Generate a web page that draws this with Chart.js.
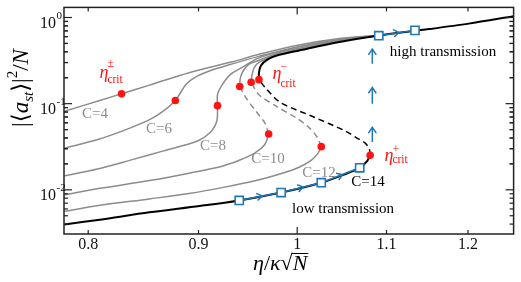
<!DOCTYPE html>
<html>
<head>
<meta charset="utf-8">
<script src="https://cdn.jsdelivr.net/npm/chart.js@4.4.0/dist/chart.umd.min.js"></script>
<style>
  html, body { margin: 0; padding: 0; background: #fff; }
  #wrap { width: 521px; height: 282px; }
</style>
</head>
<body>
<div id="wrap"><canvas id="chart" width="521" height="282"></canvas></div>
<script>
// ── Axis ticks ──
const xTickValues = [0.8, 0.9, 1, 1.1, 1.2];
const xMajorTicks = [1];
const yMajorTicks = [0.01, 0.1, 1];
const yTickExponents = ['-2', '-1', '0'];
const yMinorMantissas = [2, 3, 4, 5, 6, 7, 8, 9];

// ── Curves: |<a_st>|^2/N against eta/(kappa sqrt N), one per C ──
const curveC4 = [[0.780,0.0815],[0.810,0.109],[0.829,0.130],[0.854,0.164],[0.891,0.229],[0.933,0.306],[0.960,0.374],[1.002,0.480],[1.046,0.5705],[1.091,0.62]];
const curveC6 = [[0.780,0.0304],[0.809,0.0386],[0.837,0.0524],[0.855,0.066],[0.867,0.0826],[0.878,0.109],[0.888,0.167],[0.897,0.203],[0.911,0.241],[0.930,0.283],[0.960,0.354],[1.002,0.462],[1.046,0.556],[1.091,0.62]];
const curveC8 = [[0.780,0.0146],[0.808,0.0174],[0.837,0.0221],[0.867,0.0283],[0.899,0.0369],[0.911,0.0459],[0.9177,0.0626],[0.9184,0.0948],[0.9184,0.127],[0.923,0.165],[0.931,0.217],[0.945,0.272],[0.960,0.340],[1.002,0.456],[1.046,0.548],[1.091,0.62]];

const c10Low = [[0.780,0.00876],[0.810,0.0104],[0.854,0.0128],[0.891,0.0156],[0.923,0.0188],[0.940,0.0220],[0.956,0.0268],[0.966,0.0336],[0.970,0.0444]];
const c10Mid = [[0.970,0.0444],[0.966,0.0598],[0.957,0.0815],[0.947,0.116],[0.9405,0.158]];
const c10High = [[0.9405,0.158],[0.941,0.195],[0.944,0.241],[0.950,0.287],[0.960,0.319],[0.981,0.389],[1.002,0.440],[1.046,0.541],[1.091,0.62]];

const c12Low = [[0.780,0.00563],[0.810,0.0066],[0.854,0.00784],[0.891,0.00907],[0.923,0.0106],[0.957,0.0128],[0.986,0.0158],[1.002,0.0183],[1.015,0.0220],[1.022,0.0261],[1.026,0.0317]];
const c12Mid = [[1.026,0.0317],[1.022,0.0402],[1.013,0.0524],[0.999,0.0683],[0.978,0.0931],[0.960,0.127],[0.952,0.177]];
const c12High = [[0.952,0.177],[0.953,0.217],[0.955,0.261],[0.960,0.302],[0.981,0.374],[1.002,0.429],[1.046,0.534],[1.091,0.62]];

const c14Low = [[0.780,0.00396],[0.810,0.0045],[0.854,0.00548],[0.901,0.0065],[0.940,0.00753],[0.983,0.0093],[1.026,0.0121],[1.051,0.0150],[1.069,0.0180],[1.077,0.0212],[1.081,0.0252]];
const c14Mid = [[1.081,0.0252],[1.080,0.0298],[1.075,0.035],[1.065,0.0404],[1.053,0.048],[1.016,0.0714],[0.982,0.1035],[0.967,0.151],[0.960,0.190]];
const c14High = [[0.960,0.190],[0.960,0.229],[0.962,0.276],[0.969,0.327],[0.981,0.369],[1.002,0.415],[1.046,0.520],[1.091,0.62],[1.151,0.734],[1.201,0.849],[1.260,1.035]];

// critical points eta_crit (+/-)
const critPoints = [[0.829,0.130],[0.878,0.109],[0.9184,0.0948],[0.9405,0.158],[0.970,0.0444],[0.952,0.177],[1.026,0.0317],[0.960,0.190],[1.081,0.0252]];

// hysteresis path for C=14
const lowSquares = [[0.940,0.00753],[0.983,0.0093],[1.026,0.0121],[1.069,0.0180]];
const highSquares = [[1.091,0.615],[1.134,0.709]];
const jumpX = 1.0835;
const jumpArrows = [[0.036,0.053],[0.100,0.154],[0.29,0.43]];

const SERIF = "'Liberation Serif', 'DejaVu Serif', serif";
const GRAY = '#8c8c8c';
const BLUE = '#1f77b4';
const RED = '#ff1414';

function pts(arr) { return arr.map(([x, y]) => ({ x, y })); }

function curve(data, color, width, dashed, order) {
  return {
    data: pts(data), showLine: true, borderColor: color, borderWidth: width,
    borderDash: dashed ? [6, 4] : [], pointRadius: 0, tension: 0.3, fill: false, order
  };
}

const jumpData = [];
jumpArrows.forEach(([y0, y1]) => { jumpData.push({ x: jumpX, y: y0 }, { x: jumpX, y: y1 }, { x: jumpX, y: null }); });

const datasets = [
  { data: pts(critPoints), showLine: false, pointRadius: 3.8, pointBackgroundColor: RED, pointBorderWidth: 0, order: 0 },
  { data: pts(lowSquares.concat(highSquares)), showLine: false, pointStyle: 'rect', pointRadius: 5.8,
    pointBackgroundColor: '#fff', pointBorderColor: BLUE, pointBorderWidth: 1.6, order: 1 },
  { data: pts(lowSquares), showLine: true, borderColor: BLUE, borderWidth: 1.5, pointRadius: 0, tension: 0, order: 2 },
  { data: pts(highSquares), showLine: true, borderColor: BLUE, borderWidth: 1.5, pointRadius: 0, tension: 0, order: 2 },
  { data: jumpData, showLine: true, spanGaps: false, borderColor: BLUE, borderWidth: 1.5, pointRadius: 0, tension: 0, order: 2 },
  curve(c14Low, '#000', 2, false, 3),
  curve(c14Mid, '#000', 1.5, true, 3),
  curve(c14High, '#000', 2, false, 3),
  curve(c12Low, GRAY, 1.5, false, 4),
  curve(c12Mid, GRAY, 1.5, true, 4),
  curve(c12High, GRAY, 1.5, false, 4),
  curve(c10Low, GRAY, 1.5, false, 4),
  curve(c10Mid, GRAY, 1.5, true, 4),
  curve(c10High, GRAY, 1.5, false, 4),
  curve(curveC8, GRAY, 1.5, false, 4),
  curve(curveC6, GRAY, 1.5, false, 4),
  curve(curveC4, GRAY, 1.5, false, 4)
];

// ── Text helpers ──
function txt(ctx, s, x, y, size, color, style = '', align = 'left') {
  ctx.font = `${style} ${size}px ${SERIF}`;
  ctx.fillStyle = color;
  ctx.textAlign = align;
  ctx.textBaseline = 'alphabetic';
  ctx.fillText(s, x, y);
  return ctx.measureText(s).width;
}

function etaCrit(ctx, x, y, sup, supDy, subDy) {
  const w = txt(ctx, 'η', x, y, 18, RED, 'italic');
  txt(ctx, sup, x + w - 1, y + supDy, 12, RED);
  txt(ctx, 'crit', x + w - 1, y + subDy, 11.5, RED);
}

function chevron(ctx, px, py, ang, s) {
  ctx.beginPath();
  ctx.moveTo(px - s * Math.cos(ang - 0.6), py - s * Math.sin(ang - 0.6));
  ctx.lineTo(px, py);
  ctx.lineTo(px - s * Math.cos(ang + 0.6), py - s * Math.sin(ang + 0.6));
  ctx.stroke();
}

// ── Frame with inward ticks, y tick labels ──
const frameTicks = {
  id: 'frameTicks',
  afterDraw(chart) {
    const { ctx, chartArea: a, scales: { x, y } } = chart;
    ctx.save();
    ctx.strokeStyle = '#222';
    ctx.lineWidth = 1.5;
    ctx.strokeRect(a.left, a.top, a.right - a.left, a.bottom - a.top);
    ctx.lineWidth = 1.2;
    const seg = (x0, y0, x1, y1) => { ctx.beginPath(); ctx.moveTo(x0, y0); ctx.lineTo(x1, y1); ctx.stroke(); };
    xTickValues.forEach(v => {
      const p = x.getPixelForValue(v);
      const len = xMajorTicks.includes(v) ? 7 : 4;
      seg(p, a.bottom, p, a.bottom - len);
      seg(p, a.top, p, a.top + len);
    });
    yMajorTicks.forEach((dec, i) => {
      const p = y.getPixelForValue(dec);
      seg(a.left, p, a.left + 8, p);
      seg(a.right, p, a.right - 8, p);
      txt(ctx, '10', a.left - 8, p + 10, 16, '#111', '', 'right');
      txt(ctx, yTickExponents[i], a.left - 7.5, p + 1, 11, '#111');
      yMinorMantissas.forEach(m => {
        [dec / 10, dec].forEach(base => {
          const v = base * m;
          if (v < y.min || v > y.max) return;
          const q = y.getPixelForValue(v);
          seg(a.left, q, a.left + 4, q);
          seg(a.right, q, a.right - 4, q);
        });
      });
    });
    ctx.restore();
  }
};

// ── Arrowheads, labels, axis titles ──
const annotations = {
  id: 'annotations',
  afterDatasetsDraw(chart) {
    const { ctx, scales: { x, y } } = chart;
    ctx.save();
    ctx.strokeStyle = BLUE;
    ctx.lineWidth = 1.5;
    const px = ([u, v]) => [x.getPixelForValue(u), y.getPixelForValue(v)];
    [lowSquares, highSquares].forEach(path => {
      for (let i = 0; i < path.length - 1; i++) {
        const [x0, y0] = px(path[i]), [x1, y1] = px(path[i + 1]);
        chevron(ctx, (x0 + x1) / 2 + 2, (y0 + y1) / 2 - 0.5, Math.atan2(y1 - y0, x1 - x0), 6.5);
      }
    });
    jumpArrows.forEach(([, y1]) => {
      const [p, q] = px([jumpX, y1]);
      chevron(ctx, p, q, -Math.PI / 2, 7);
    });
    ctx.restore();
  },
  afterDraw(chart) {
    const { ctx } = chart;
    ctx.save();
    // curve labels
    txt(ctx, 'C=4', 95, 118, 15, GRAY, '', 'center');
    txt(ctx, 'C=6', 159, 133, 15, GRAY, '', 'center');
    txt(ctx, 'C=8', 213, 150, 15, GRAY, '', 'center');
    txt(ctx, 'C=10', 268, 163, 15, GRAY, '', 'center');
    txt(ctx, 'C=12', 319, 177, 15, GRAY, '', 'center');
    txt(ctx, 'C=14', 368, 186, 15, '#000', '', 'center');
    txt(ctx, 'high transmission', 443, 56, 15, '#000', '', 'center');
    txt(ctx, 'low transmission', 343, 213, 15, '#000', '', 'center');
    // eta_crit labels
    etaCrit(ctx, 99.5, 77.5, '±', -10.5, 5.5);
    etaCrit(ctx, 272.5, 78.5, '−', -9, 8);
    etaCrit(ctx, 384.5, 161, '+', -8, 2);
    // x title: eta / kappa sqrt(N)
    let cx = 253;
    const base = 270;
    cx += txt(ctx, 'η', cx, base, 22, '#000', 'italic');
    cx += txt(ctx, '/', cx, base, 22, '#000');
    cx += txt(ctx, 'κ', cx, base, 22, '#000', 'italic');
    cx += txt(ctx, '√', cx, base, 22, '#000');
    const nx = cx;
    cx += txt(ctx, 'N', cx, base, 22, '#000', 'italic');
    ctx.strokeStyle = '#000';
    ctx.lineWidth = 1;
    ctx.beginPath(); ctx.moveTo(nx - 1, base - 16.5); ctx.lineTo(cx + 1, base - 16.5); ctx.stroke();
    // y title: |<a_st>|^2 / N, rotated
    ctx.translate(28, 88);
    ctx.rotate(-Math.PI / 2);
    const parts = [['|⟨', 23, '', 0], ['a', 23, 'italic', 0], ['st', 15, 'italic', 5], ['⟩|', 23, '', 0],
      ['2', 15, '', -11], ['/', 23, '', 0], ['N', 23, 'italic', 0]];
    let total = 0;
    parts.forEach(([s, sz, st]) => { ctx.font = `${st} ${sz}px ${SERIF}`; total += ctx.measureText(s).width; });
    let tx = -total / 2;
    parts.forEach(([s, sz, st, dy]) => { tx += txt(ctx, s, tx, dy, sz, '#000', st); });
    ctx.restore();
  }
};

new Chart(document.getElementById('chart'), {
  type: 'scatter',
  data: { datasets },
  options: {
    responsive: false,
    devicePixelRatio: 1,
    animation: false,
    layout: { padding: { top: 5, right: 6, left: 0, bottom: 0 } },
    plugins: { legend: { display: false }, tooltip: { enabled: false } },
    scales: {
      x: {
        type: 'logarithmic', min: 0.7796, max: 1.2599, bounds: 'data',
        afterBuildTicks: s => { s.ticks = xTickValues.map(v => ({ value: v })); },
        afterFit: s => { s.height = 48; },
        grid: { display: false, drawTicks: false },
        border: { display: false },
        ticks: { autoSkip: false, maxRotation: 0, padding: 1, color: '#111',
          font: { family: SERIF, size: 16 }, callback: v => String(+v.toFixed(1)) }
      },
      y: {
        type: 'logarithmic', min: 0.00307, max: 1.31, bounds: 'data',
        afterFit: s => { s.width = 64; },
        grid: { display: false, drawTicks: false },
        border: { display: false },
        ticks: { display: false }
      }
    }
  },
  plugins: [frameTicks, annotations]
});
</script>
</body>
</html>
